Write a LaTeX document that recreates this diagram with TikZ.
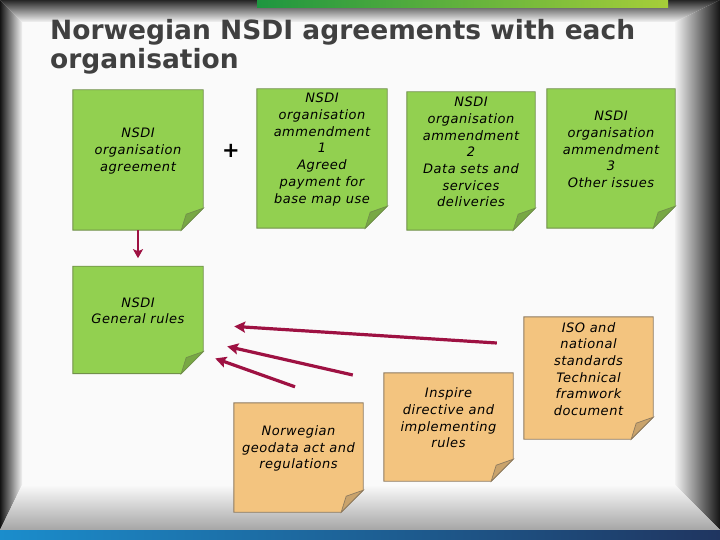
\documentclass[tikz,border=0pt]{standalone}
\usepackage{fontspec}
\setmainfont{DejaVu Sans}
\newfontfamily\notefont[LetterSpace=4]{DejaVu Sans}
\usetikzlibrary{arrows.meta,positioning,backgrounds}
\definecolor{notegreen}{HTML}{92D050}
\definecolor{greenedge}{HTML}{71904A}
\definecolor{greenflap}{HTML}{78A844}
\definecolor{noteorange}{HTML}{F3C47F}
\definecolor{orangeedge}{HTML}{8E7B60}
\definecolor{orangeflap}{HTML}{C9A36C}
\definecolor{linkred}{HTML}{9E1142}
\definecolor{titlegrey}{HTML}{404040}
\definecolor{barblue}{HTML}{1B8DCC}
\definecolor{barnavy}{HTML}{1F3560}
\definecolor{bardkgreen}{HTML}{1E9640}
\definecolor{barltgreen}{HTML}{A6CE39}
\tikzset{
  note/.style={inner sep=0pt,minimum width=130pt},
  notetext/.style={font=\notefont\fontsize{13}{16.7}\selectfont\itshape,align=center,yshift=9pt},
  linkarrow/.style={-{Stealth[length=11pt,width=11pt,inset=2pt]},line width=3.2pt,linkred},
  downarrow/.style={-{Stealth[length=9pt,width=10pt,inset=2pt]},line width=2.5pt,linkred},
  titletext/.style={font=\bfseries\fontsize{26.5}{29}\selectfont,text=titlegrey,align=left,inner sep=0pt}
}
\begin{document}
\begin{tikzpicture}[x=1pt,y=-1pt,node distance=36pt]
  \useasboundingbox (0,0) rectangle (720,540);

  \node[titletext,anchor=north west] (title) at (50,19) {Norwegian NSDI agreements with each\\organisation};

  % top row
  \node[note,minimum height=140pt,label={[notetext]center:{NSDI\\organisation\\agreement}}] (agree) at (138,160) {};
  \node[font=\bfseries\fontsize{21}{21}\selectfont] (plus) at (231,151) {+};
  \node[note,minimum height=139pt,label={[notetext]center:{NSDI\\organisation\\ammendment\\1\\Agreed\\payment for\\base map use}}] (amend1) at (322,158.5) {};
  \node[note,minimum width=128pt,minimum height=138pt,label={[notetext]center:{NSDI\\organisation\\ammendment\\2\\Data sets and\\services\\deliveries}}] (amend2) at (471,161) {};
  \node[note,minimum width=128pt,minimum height=139pt,label={[notetext]center:{NSDI\\organisation\\ammendment\\3\\Other issues}}] (amend3) at (611,158.5) {};

  % general rules and sources
  \node[note,minimum height=107pt,below=of agree,label={[notetext]center:{NSDI\\General rules}}] (rules) {};
  \node[note,minimum width=129pt,minimum height=109pt,label={[notetext]center:{Norwegian\\geodata act and\\regulations}}] (geodata) at (298.5,457.5) {};
  \node[note,minimum width=129pt,minimum height=108pt,label={[notetext]center:{Inspire\\directive and\\implementing\\rules}}] (inspire) at (448.5,427) {};
  \node[note,minimum width=129pt,minimum height=122pt,label={[notetext]center:{ISO and\\national\\standards\\Technical\\framwork\\document}}] (iso) at (588.5,378) {};

  \coordinate (isoTail) at ([xshift=-27pt,yshift=35pt]iso.west);
  \coordinate (isoTip) at ([xshift=31pt,yshift=-6.5pt]rules.east);
  \coordinate (inspireTail) at ([xshift=-31pt,yshift=52pt]inspire.west);
  \coordinate (inspireTip) at ([xshift=24pt,yshift=-26.5pt]rules.east);
  \coordinate (geodataTail) at ([xshift=-3.5pt,yshift=16pt]geodata.north);
  \coordinate (geodataTip) at ([xshift=12pt,yshift=-38.5pt]rules.east);

  \draw[downarrow,shorten >=8pt] (agree) -- (rules);
  \draw[linkarrow] (isoTail) -- (isoTip);
  \draw[linkarrow] (inspireTail) -- (inspireTip);
  \draw[linkarrow] (geodataTail) -- (geodataTip);

  \begin{scope}[on background layer]
    % slide frame
    \fill[white!98!black] (0,0) rectangle (720,540);
    \shade[left color=black!92,right color=white!95!black] (0,0) -- (22,22) -- (22,485) -- (0,530) -- cycle;
    \shade[top color=black!85,bottom color=white!96!black] (0,0) -- (720,0) -- (675,22) -- (22,22) -- cycle;
    \shade[left color=white!95!black,middle color=black!40,right color=black!92] (720,0) -- (720,530) -- (675,485) -- (675,22) -- cycle;
    \shade[top color=white!98!black,bottom color=black!35] (0,530) -- (22,485) -- (675,485) -- (720,530) -- cycle;
    \shade[left color=bardkgreen,right color=barltgreen] (257,0) rectangle (668,8);
    \shade[left color=barblue,right color=barnavy] (0,530) rectangle (720,540);
    % sticky notes
    \foreach \n/\body/\edge/\flap in {agree/notegreen/greenedge/greenflap,amend1/notegreen/greenedge/greenflap,
        amend2/notegreen/greenedge/greenflap,amend3/notegreen/greenedge/greenflap,rules/notegreen/greenedge/greenflap,
        geodata/noteorange/orangeedge/orangeflap,inspire/noteorange/orangeedge/orangeflap,iso/noteorange/orangeedge/orangeflap}{
      \filldraw[fill=\body,draw=\edge,line width=0.9pt] (\n.north west) -- (\n.north east) -- ([yshift=22pt]\n.south east)
        -- ([xshift=-22pt]\n.south east) -- (\n.south west) -- cycle;
      \filldraw[fill=\flap,draw=\edge,line width=0.7pt] ([yshift=22pt]\n.south east)
        .. controls ([xshift=-8pt,yshift=19pt]\n.south east) .. ([xshift=-17pt,yshift=16pt]\n.south east)
        .. controls ([xshift=-20pt,yshift=8pt]\n.south east) .. ([xshift=-22pt]\n.south east) -- cycle;
    }
  \end{scope}
\end{tikzpicture}
\end{document}
